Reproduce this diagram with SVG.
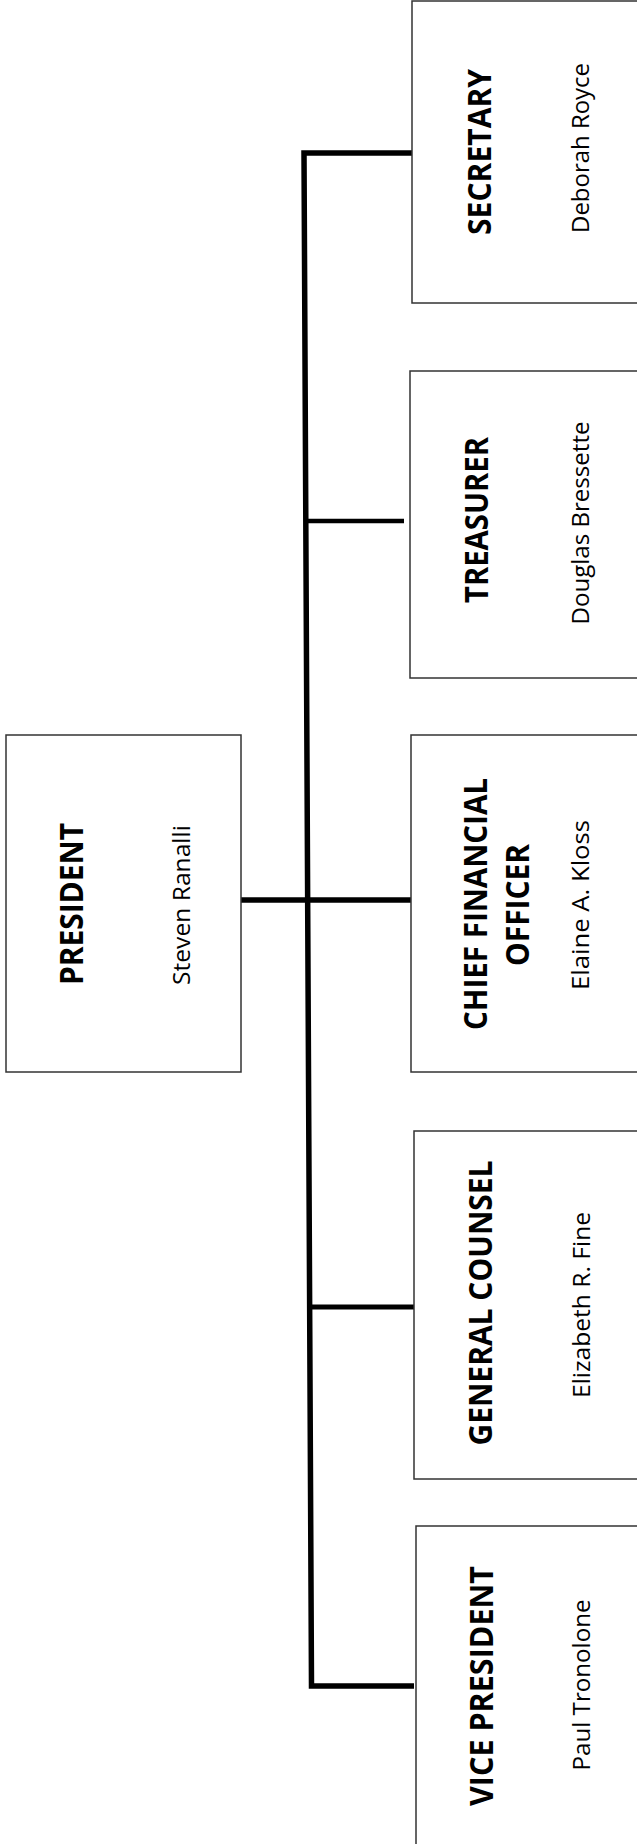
<svg xmlns="http://www.w3.org/2000/svg" width="637" height="1844" viewBox="0 0 637 1844">
<style>
.box{fill:#fff;stroke:#333;stroke-width:1.5}
.t{font-family:"Open Sans","Liberation Sans",sans-serif;font-weight:700;font-size:32px;fill:#000;text-anchor:middle}
.n{font-family:"Open Sans","Liberation Sans",sans-serif;font-weight:400;font-size:24px;fill:#000;text-anchor:middle}
.c{fill:none;stroke:#000;stroke-width:5.5;stroke-linejoin:miter;stroke-linecap:butt}
</style>
<rect width="637" height="1844" fill="#fff"/>
<g id="connectors">
<path class="c" d="M412 153 L304 153 L311.5 1686 L414 1686"/>
<path class="c" d="M306 521 L404 521" style="stroke-width:4.5"/>
<path class="c" d="M241 900 L411 900"/>
<path class="c" d="M309.5 1307 L414 1307" style="stroke-width:5"/>
</g>
<g id="president">
<rect class="box" x="6" y="735" width="235" height="337"/>
<text class="t" transform="translate(83,904) rotate(-90)" textLength="162" lengthAdjust="spacingAndGlyphs">PRESIDENT</text>
<text class="n" transform="translate(190,905) rotate(-90)" textLength="160" lengthAdjust="spacingAndGlyphs">Steven Ranalli</text>
</g>
<g id="secretary">
<rect class="box" x="412" y="1" width="240" height="302"/>
<text class="t" transform="translate(491,152) rotate(-90)" textLength="166" lengthAdjust="spacingAndGlyphs">SECRETARY</text>
<text class="n" transform="translate(589,148) rotate(-90)" textLength="170" lengthAdjust="spacingAndGlyphs">Deborah Royce</text>
</g>
<g id="treasurer">
<rect class="box" x="410" y="371" width="240" height="307"/>
<text class="t" transform="translate(488,520) rotate(-90)" textLength="166" lengthAdjust="spacingAndGlyphs">TREASURER</text>
<text class="n" transform="translate(589,523) rotate(-90)" textLength="203" lengthAdjust="spacingAndGlyphs">Douglas Bressette</text>
</g>
<g id="cfo">
<rect class="box" x="411" y="735" width="240" height="337"/>
<text class="t" transform="translate(487,904) rotate(-90)" textLength="252" lengthAdjust="spacingAndGlyphs">CHIEF FINANCIAL</text>
<text class="t" transform="translate(529,905) rotate(-90)" textLength="122" lengthAdjust="spacingAndGlyphs">OFFICER</text>
<text class="n" transform="translate(589,905) rotate(-90)" textLength="170" lengthAdjust="spacingAndGlyphs">Elaine A.  Kloss</text>
</g>
<g id="general-counsel">
<rect class="box" x="414" y="1131" width="240" height="348"/>
<text class="t" transform="translate(492,1303) rotate(-90)" textLength="285" lengthAdjust="spacingAndGlyphs">GENERAL COUNSEL</text>
<text class="n" transform="translate(590,1305) rotate(-90)" textLength="186" lengthAdjust="spacingAndGlyphs">Elizabeth R. Fine</text>
</g>
<g id="vice-president">
<rect class="box" x="416" y="1526" width="240" height="330"/>
<text class="t" transform="translate(493,1686) rotate(-90)" textLength="240" lengthAdjust="spacingAndGlyphs">VICE PRESIDENT</text>
<text class="n" transform="translate(590,1685) rotate(-90)" textLength="171" lengthAdjust="spacingAndGlyphs">Paul Tronolone</text>
</g>
</svg>
